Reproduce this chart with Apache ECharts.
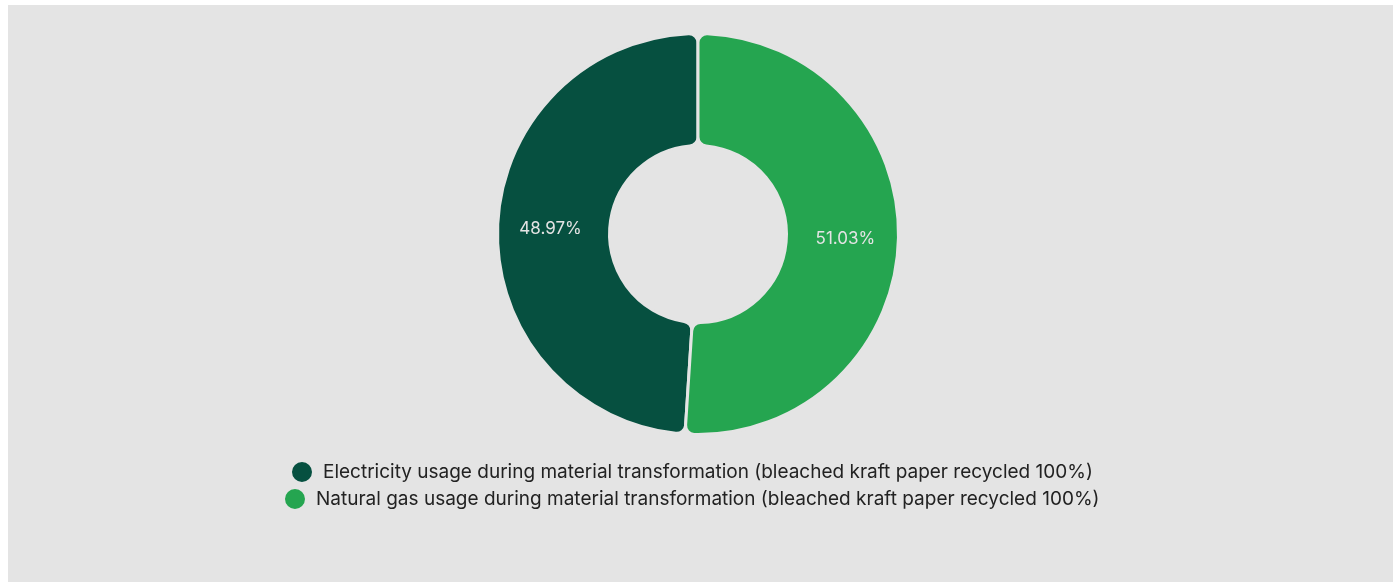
<!DOCTYPE html>
<html>
<head>
<meta charset="utf-8">
<script src="https://cdn.jsdelivr.net/npm/echarts@6/dist/echarts.min.js"></script>
<style>
html,body{margin:0;padding:0;background:#ffffff;}
#chart{position:absolute;left:8px;top:5px;width:1385px;height:577px;background:#e4e4e4;}
</style>
</head>
<body>
<div id="chart"></div>
<script>
const categories = [
  'Electricity usage during material transformation (bleached kraft paper recycled 100%)',
  'Natural gas usage during material transformation (bleached kraft paper recycled 100%)'
];
const values = [48.97, 51.03];
const colors = ['#065040', '#25a550'];

const legendText = {fontFamily: 'Inter', fontSize: 19, color: '#222222', padding: [0, 0, 0, 5]};
const chart = echarts.init(document.getElementById('chart'));
chart.setOption({
  backgroundColor: '#e4e4e4',
  color: colors,
  legend: [
    {
      data: [categories[0]], left: 277, top: 450, icon: 'circle',
      itemWidth: 22, itemHeight: 22, itemGap: 8, textStyle: legendText
    },
    {
      data: [categories[1]], left: 270, top: 477, icon: 'circle',
      itemWidth: 22, itemHeight: 22, itemGap: 8, textStyle: legendText
    }
  ],
  series: [{
    type: 'pie',
    center: [690, 229],
    radius: [88.5, 200.5],
    startAngle: 90,
    clockwise: false,
    avoidLabelOverlap: false,
    itemStyle: {borderColor: '#e4e4e4', borderWidth: 3, borderRadius: 9},
    label: {
      show: true, position: 'inside', formatter: '{d}%',
      fontFamily: 'Inter', fontSize: 17, color: '#e4e4e4'
    },
    labelLine: {show: false},
    emphasis: {disabled: true},
    data: categories.map((c, i) => ({name: c, value: values[i]}))
  }]
});
</script>
</body>
</html>
